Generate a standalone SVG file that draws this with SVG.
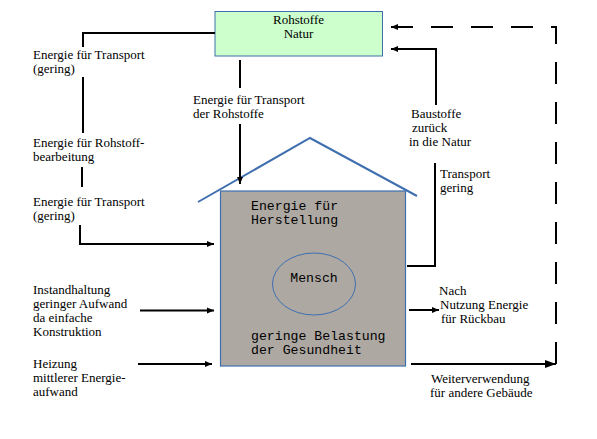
<svg xmlns="http://www.w3.org/2000/svg" width="597" height="439" viewBox="0 0 597 439">
<style>
.t{font-family:"Liberation Serif","Times New Roman",serif;font-size:13px;fill:#000}
.m{font-family:"Liberation Mono","Courier New",monospace;font-size:13.2px;fill:#000}
.c{fill:none;stroke:#000;stroke-width:2}
.d{fill:none;stroke:#000;stroke-width:2;stroke-dasharray:22 18}
</style>
<defs>
<marker id="a" markerWidth="8" markerHeight="8" refX="7" refY="4" orient="auto" markerUnits="userSpaceOnUse">
<path d="M0,1 L7,4 L0,7 Z" fill="#000"/>
</marker>
<marker id="b" markerWidth="12" markerHeight="10" refX="11" refY="5" orient="auto" markerUnits="userSpaceOnUse">
<path d="M0,1 L11,5 L0,9 Z" fill="#000"/>
</marker>
</defs>
<rect width="597" height="439" fill="#fff"/>
<g id="rohstoffe">
<rect x="215" y="11.5" width="167.5" height="44.5" fill="#CCFFCC" stroke="#3F6FAF" stroke-width="1"/>
<text class="t" x="298.5" y="24" text-anchor="middle">Rohstoffe</text>
<text class="t" x="298.5" y="38" text-anchor="middle">Natur</text>
</g>
<g id="haus">
<rect x="220.5" y="191" width="185" height="175" fill="#ADA8A2" stroke="#3F6FAF" stroke-width="1.2"/>
<polyline points="198,202 310,138 417,196" fill="none" stroke="#3F6FAF" stroke-width="2"/>
<text class="m" x="251" y="210">Energie für</text>
<text class="m" x="251" y="224">Herstellung</text>
<text class="m" x="251" y="340">geringe Belastung</text>
<text class="m" x="251" y="354">der Gesundheit</text>
</g>
<g id="mensch">
<ellipse cx="314" cy="284" rx="41.5" ry="31" fill="none" stroke="#3F6FAF" stroke-width="1"/>
<text class="m" x="314" y="282" text-anchor="middle">Mensch</text>
</g>
<g id="labels">
<text class="t" x="33" y="59">Energie für Transport</text>
<text class="t" x="33" y="73">(gering)</text>
<text class="t" x="33" y="147">Energie für Rohstoff-</text>
<text class="t" x="33" y="161">bearbeitung</text>
<text class="t" x="33" y="206">Energie für Transport</text>
<text class="t" x="33" y="220">(gering)</text>
<text class="t" x="193" y="104">Energie für Transport</text>
<text class="t" x="193" y="118">der Rohstoffe</text>
<text class="t" x="33" y="294">Instandhaltung</text>
<text class="t" x="33" y="308">geringer Aufwand</text>
<text class="t" x="33" y="322">da einfache</text>
<text class="t" x="33" y="336">Konstruktion</text>
<text class="t" x="33" y="368">Heizung</text>
<text class="t" x="33" y="382">mittlerer Energie-</text>
<text class="t" x="33" y="396">aufwand</text>
<text class="t" x="411" y="118">Baustoffe</text>
<text class="t" x="412" y="132">zurück</text>
<text class="t" x="409" y="146">in die Natur</text>
<text class="t" x="440" y="178">Transport</text>
<text class="t" x="440" y="192">gering</text>
<text class="t" x="439" y="295">Nach</text>
<text class="t" x="440" y="309">Nutzung Energie</text>
<text class="t" x="441" y="323">für Rückbau</text>
<text class="t" x="431" y="383">Weiterverwendung</text>
<text class="t" x="430" y="397">für andere Gebäude</text>
</g>
<g id="connectors">
<polyline class="c" points="215,33 83,33 83,47"/>
<line class="c" x1="83" y1="77" x2="83" y2="133"/>
<line class="c" x1="82" y1="167" x2="82" y2="187"/>
<polyline class="c" points="80,225 80,244 214,244" marker-end="url(#a)"/>
<line class="c" x1="240" y1="60" x2="240" y2="88"/>
<line class="c" x1="240" y1="124" x2="240" y2="184" marker-end="url(#a)"/>
<line class="c" x1="140" y1="310.5" x2="214" y2="310.5" marker-end="url(#a)"/>
<line class="c" x1="138" y1="364" x2="212" y2="364" marker-end="url(#a)"/>
<polyline class="c" points="407,266 435,266 435,163"/>
<polyline class="c" points="436,105 436,49 391,49" marker-end="url(#a)"/>
<line class="c" x1="409" y1="310" x2="439" y2="310" marker-end="url(#a)"/>
<line class="c" x1="411" y1="364" x2="556" y2="364" marker-end="url(#b)"/>
<polyline class="d" points="556,364 556,27 391,27" marker-end="url(#a)"/>
</g>
</svg>
